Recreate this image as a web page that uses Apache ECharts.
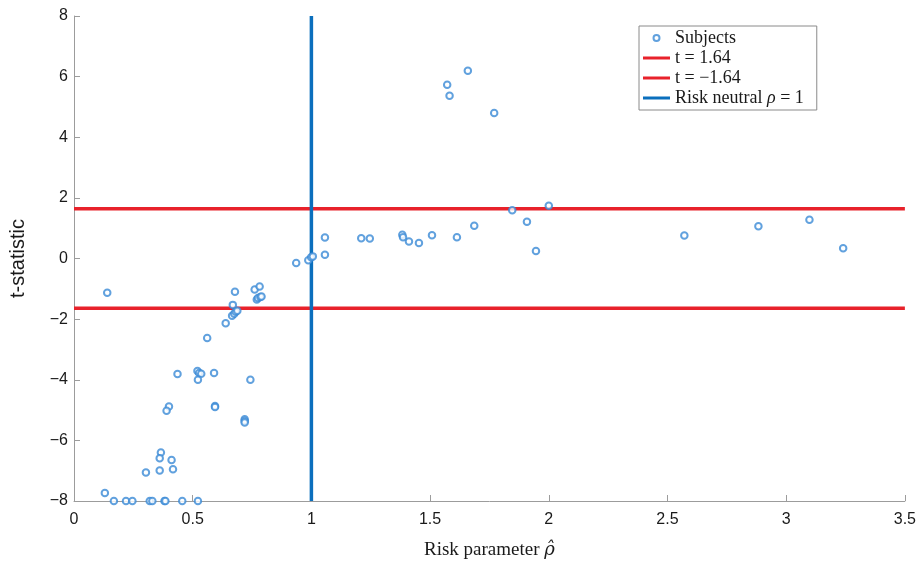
<!DOCTYPE html>
<html>
<head>
<meta charset="utf-8">
<script src="https://cdn.jsdelivr.net/npm/echarts@6/dist/echarts.min.js"></script>
<style>
  html, body { margin: 0; padding: 0; background: #fff; }
  #chart { width: 919px; height: 565px; }
</style>
</head>
<body>
<div id="chart"></div>
<script>
// Estimated risk parameter per subject and the matching t-statistic
const rhoHat = [
  0.140, 0.678, 0.761, 0.782, 0.770, 0.775, 0.785, 0.790, 0.669, 0.666,
  0.675, 0.681, 0.688, 0.639, 0.561, 0.436, 0.520, 0.527, 0.536, 0.522,
  0.590, 0.743, 0.400, 0.390, 0.594, 0.594, 0.719, 0.719, 0.719, 0.366,
  0.361, 0.411, 0.361, 0.417, 0.303, 0.130, 0.168, 0.219, 0.246, 0.319,
  0.330, 0.381, 0.385, 0.456, 0.522, 1.659, 1.572, 1.582, 1.770, 2.000,
  1.846, 1.908, 1.946, 1.686, 1.613, 1.508, 1.453, 1.411, 1.383, 1.386,
  1.210, 1.246, 1.057, 1.057, 0.987, 0.999, 1.006, 0.936, 2.571, 2.883,
  3.098, 3.240
];
const tStat = [
  -1.13, -1.10, -1.02, -0.92, -1.35, -1.30, -1.27, -1.25, -1.53, -1.89,
  -1.82, -1.76, -1.72, -2.14, -2.62, -3.81, -3.71, -3.78, -3.80, -4.00,
  -3.78, -4.00, -4.88, -5.02, -4.87, -4.90, -5.30, -5.36, -5.41, -6.40,
  -6.59, -6.65, -6.99, -6.95, -7.06, -7.74, -8.00, -8.00, -8.00, -8.00,
  -8.00, -8.00, -8.00, -8.00, -8.00, 6.19, 5.73, 5.37, 4.80, 1.74,
  1.59, 1.21, 0.25, 1.08, 0.70, 0.77, 0.51, 0.56, 0.78, 0.70,
  0.67, 0.66, 0.69, 0.12, -0.06, 0.04, 0.07, -0.15, 0.76, 1.06,
  1.28, 0.34
];

// Significance thresholds and the risk-neutral reference
const tCritical = [1.64, -1.64];
const riskNeutralRho = 1;

// Axis ranges
const xRange = [0, 3.5];
const yRange = [-8, 8];

const RED = '#e8222b';
const BLUE = '#0b6fbd';
const MARKER = '#3a8ad6';
const AXIS = '#9c9c9c';
const TEXT = '#1a1a1a';
const SANS = '"Liberation Sans", Arial, Helvetica, sans-serif';
const SERIF = '"Liberation Serif", "DejaVu Serif", serif';
const LINE_ICON = 'path://M0,0H27V3H0Z';

const fmtMinus = v => String(v).replace('-', '\u2212');
const tLabel = v => 't = ' + fmtMinus(v);

const points = rhoHat.map((r, i) => [r, tStat[i]]);

const series = [
  {
    name: 'Subjects',
    type: 'scatter',
    data: points,
    symbol: 'emptyCircle',
    symbolSize: 6.5,
    itemStyle: { color: MARKER, borderColor: MARKER, borderWidth: 1 },
    z: 5
  }
];
tCritical.forEach(v => {
  series.push({
    name: tLabel(v),
    type: 'line',
    data: [[xRange[0], v], [xRange[1], v]],
    symbol: 'none',
    lineStyle: { color: RED, width: 3.5 },
    itemStyle: { color: RED },
    z: 3
  });
});
series.push({
  name: 'Risk neutral',
  type: 'line',
  data: [[riskNeutralRho, yRange[0]], [riskNeutralRho, yRange[1]]],
  symbol: 'none',
  lineStyle: { color: BLUE, width: 3.5 },
  itemStyle: { color: BLUE },
  z: 4
});

const axisLook = {
  axisLine: { show: true, onZero: false, lineStyle: { color: AXIS, width: 1 } },
  axisTick: { show: true, inside: true, length: 6, lineStyle: { color: AXIS, width: 1 } },
  splitLine: { show: false }
};

const chart = echarts.init(document.getElementById('chart'), null, { renderer: 'canvas' });
chart.setOption({
  animation: false,
  backgroundColor: '#fff',
  grid: { left: 72, right: 13, top: 16, bottom: 60, containLabel: false },
  legend: {
    left: 639,
    top: 26,
    orient: 'vertical',
    data: series.map(s => ({
      name: s.name,
      icon: s.type === 'scatter' ? 'emptyCircle' : LINE_ICON
    })),
    itemWidth: 27,
    itemHeight: 6,
    itemGap: 2,
    padding: [3, 13, 3, 4],
    backgroundColor: '#fff',
    borderColor: '#8a8a8a',
    borderWidth: 1,
    borderRadius: 0,
    selectedMode: false,
    textStyle: {
      fontFamily: SERIF, fontSize: 18, color: TEXT,
      rich: {
        n: { fontFamily: SERIF, fontSize: 18, color: TEXT },
        i: { fontFamily: SERIF, fontSize: 18, fontStyle: 'italic', color: TEXT }
      }
    },
    formatter: name => name === 'Risk neutral'
      ? '{n|Risk neutral }{i|\u03C1}{n| = ' + riskNeutralRho + '}'
      : name
  },
  xAxis: Object.assign({
    type: 'value', min: xRange[0], max: xRange[1], interval: 0.5,
    name: '{n|Risk parameter }{i|\u03C1\u0302}',
    nameLocation: 'middle',
    nameGap: 40,
    nameTextStyle: {
      fontFamily: SERIF, fontSize: 19, color: TEXT,
      rich: {
        n: { fontFamily: SERIF, fontSize: 19, color: TEXT },
        i: { fontFamily: '"DejaVu Serif", serif', fontSize: 18, fontStyle: 'italic', color: TEXT }
      }
    },
    axisLabel: { fontFamily: SANS, fontSize: 16, color: TEXT, margin: 11 }
  }, axisLook),
  yAxis: Object.assign({
    type: 'value', min: yRange[0], max: yRange[1], interval: 2,
    name: 't-statistic',
    nameLocation: 'middle',
    nameGap: 46,
    nameRotate: 90,
    nameTextStyle: { fontFamily: SANS, fontSize: 20, color: TEXT },
    axisLabel: { fontFamily: SANS, fontSize: 16, color: TEXT, margin: 6, formatter: fmtMinus }
  }, axisLook),
  series: series
});
</script>
</body>
</html>
